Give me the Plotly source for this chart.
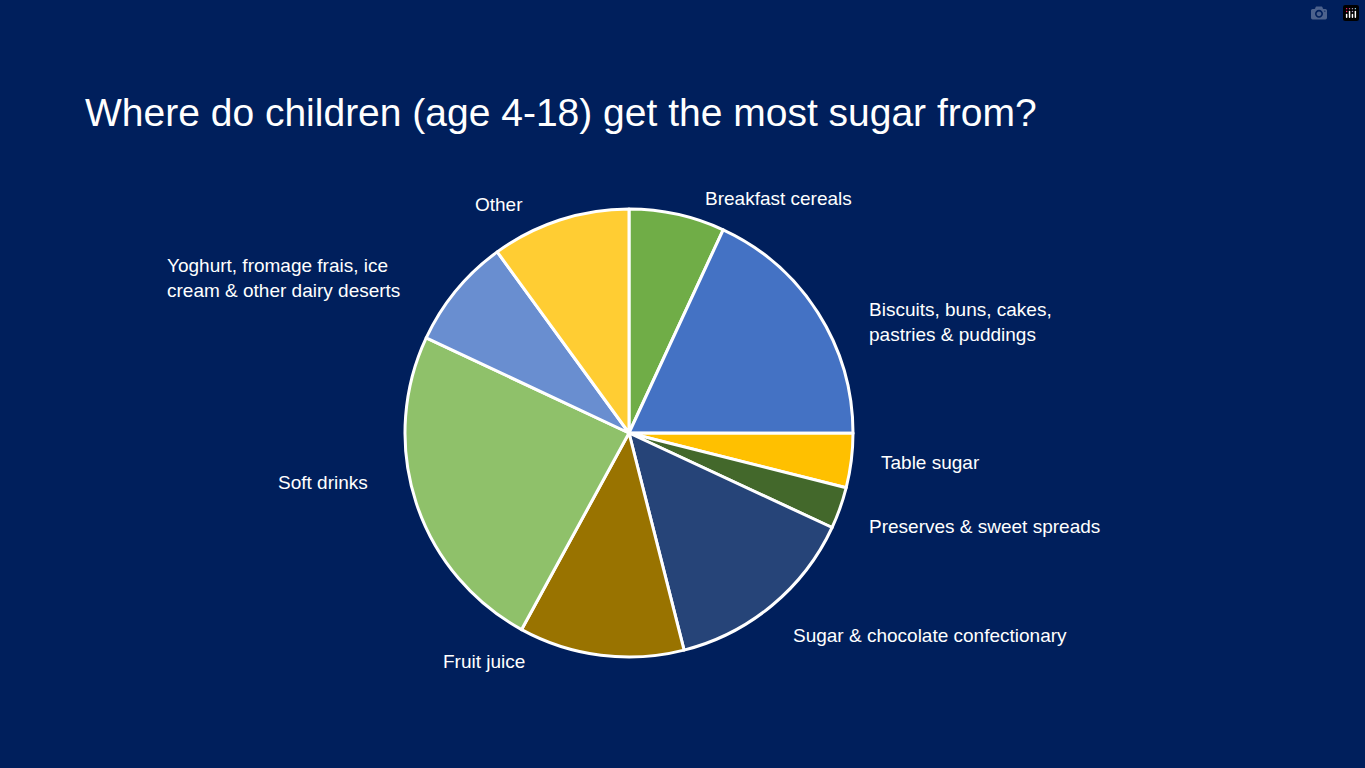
import plotly.graph_objects as go

W, H = 1365, 768

labels = ["Breakfast cereals", "Biscuits, buns, cakes,<br>pastries & puddings", "Table sugar",
          "Preserves & sweet spreads", "Sugar & chocolate confectionary", "Fruit juice",
          "Soft drinks", "Yoghurt, fromage frais, ice<br>cream & other dairy deserts", "Other"]
values = [6.9, 18.1, 3.9, 3.0, 14.1, 11.9, 24.0, 8.0, 10.0]
colors = ["#70AD47", "#4472C4", "#FFC000", "#43682B", "#264478",
          "#997300", "#8FC16A", "#698ED0", "#FFCD33"]
# label anchor points in pixels (left edge, vertical centre)
label_pos = [(703, 198), (867, 322), (879, 462), (867, 526), (791, 635),
             (441, 661), (276, 482), (165, 278), (473, 205)]

cx, cy, r = 629, 433, 224

fig = go.Figure(go.Pie(
    labels=labels, values=values, sort=False, direction="clockwise", rotation=0,
    marker=dict(colors=colors, line=dict(color="white", width=3)),
    textinfo="none", hoverinfo="label+percent",
    domain=dict(x=[(cx - r) / W, (cx + r) / W], y=[(H - cy - r) / H, (H - cy + r) / H]),
))

for lab, (px, py) in zip(labels, label_pos):
    fig.add_annotation(x=px / W, y=1 - py / H, xref="paper", yref="paper",
                       text=lab, showarrow=False, xanchor="left", yanchor="middle",
                       align="left", font=dict(size=19, color="white"))

fig.add_annotation(x=83 / W, y=1 - 113 / H, xref="paper", yref="paper",
                   text="Where do children (age 4-18) get the most sugar from?",
                   showarrow=False, xanchor="left", yanchor="middle",
                   font=dict(size=39, color="white"))

fig.update_layout(
    width=W, height=H, margin=dict(l=0, r=0, t=0, b=0),
    paper_bgcolor="#001F5C", plot_bgcolor="#001F5C", showlegend=False,
    font=dict(family="Liberation Sans, Arial, sans-serif", color="white"),
)

# drop the browser's default page margin so the slide fills the window
fig.write_html("out.html",
               post_script="document.body.style.margin='0';document.body.style.background='#001F5C';")
